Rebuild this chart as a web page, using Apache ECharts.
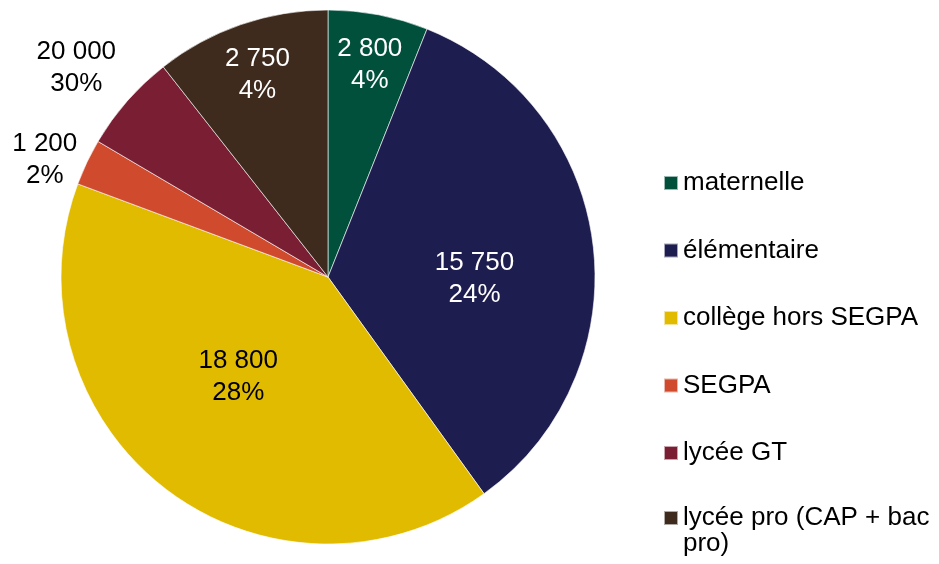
<!DOCTYPE html>
<html>
<head>
<meta charset="utf-8">
<title>Répartition par niveau</title>
<script src="https://cdn.jsdelivr.net/npm/echarts@6/dist/echarts.min.js"></script>
<style>
    html, body { margin: 0; padding: 0; background: #fff; }
    #chart { width: 939px; height: 564px; }
</style>
</head>
<body>
<div id="chart"></div>
<script>
// niveaux
const categories = ['maternelle', 'élémentaire', 'collège hors SEGPA', 'SEGPA', 'lycée GT', 'lycée pro (CAP + bac pro)'];
// taille des parts
const sliceValues = [2800, 15750, 18800, 1300, 2750, 4900];
// textes des étiquettes tels qu'ils sont affichés
const labelAmounts = ['2 800', '15 750', '18 800', '1 200', '20 000', '2 750'];
const labelShares = ['4%', '24%', '28%', '2%', '30%', '4%'];

const colors = ['#01503c', '#1e1d4f', '#e1bb00', '#d04b2d', '#7a1e33', '#3e2b1d'];
const labelColors = ['#fff', '#fff', '#000', '#000', '#000', '#fff'];
// décalage des étiquettes (px) depuis la position "inside" d'echarts
const labelShift = [[16, -78], [11, 18], [-7, -9], [-160, -58], [-149, -119], [-26, -73]];

const font = '"Liberation Sans", Arial, sans-serif';

let chart = echarts.init(document.getElementById('chart'), null, { renderer: 'canvas' });

let pieData = categories.map((name, i) => {
    return {
        name: name,
        value: sliceValues[i],
        itemStyle: { color: colors[i] },
        label: { color: labelColors[i] }
    };
});

const option = {
    animation: false,
    textStyle: { fontFamily: font },
    legend: [
        {
            orient: 'vertical',
            left: 663,
            top: 169,
            padding: 0,
            icon: 'rect',
            itemWidth: 14,
            itemHeight: 14,
            itemGap: 39.5,
            selectedMode: false,
            data: categories.slice(0, 5),
            textStyle: { fontFamily: font, fontSize: 26, lineHeight: 28, color: '#000' }
        },
        {
            // dernier item sur deux lignes : une ligne vide en tête
            // pour que le carré reste en face de la 1re ligne
            orient: 'vertical',
            left: 663,
            top: 479,
            padding: 0,
            icon: 'rect',
            itemWidth: 14,
            itemHeight: 14,
            selectedMode: false,
            data: categories.slice(5),
            formatter: name => '\n' + name.replace('bac ', 'bac\n'),
            textStyle: { fontFamily: font, fontSize: 26, lineHeight: 26, color: '#000' }
        }
    ],
    series: [
        {
            type: 'pie',
            center: [328, 277],
            radius: 267,
            startAngle: 90,
            clockwise: true,
            data: pieData,
            itemStyle: { borderColor: 'rgba(255,255,255,0.6)', borderWidth: 1 },
            label: {
                show: true,
                position: 'inside',
                fontFamily: font,
                fontSize: 26,
                lineHeight: 32,
                formatter: p => labelAmounts[p.dataIndex] + '\n' + labelShares[p.dataIndex]
            },
            labelLine: { show: false },
            labelLayout: p => ({ dx: labelShift[p.dataIndex][0], dy: labelShift[p.dataIndex][1] }),
            emphasis: { disabled: true }
        }
    ]
};

chart.setOption(option);
</script>
</body>
</html>
